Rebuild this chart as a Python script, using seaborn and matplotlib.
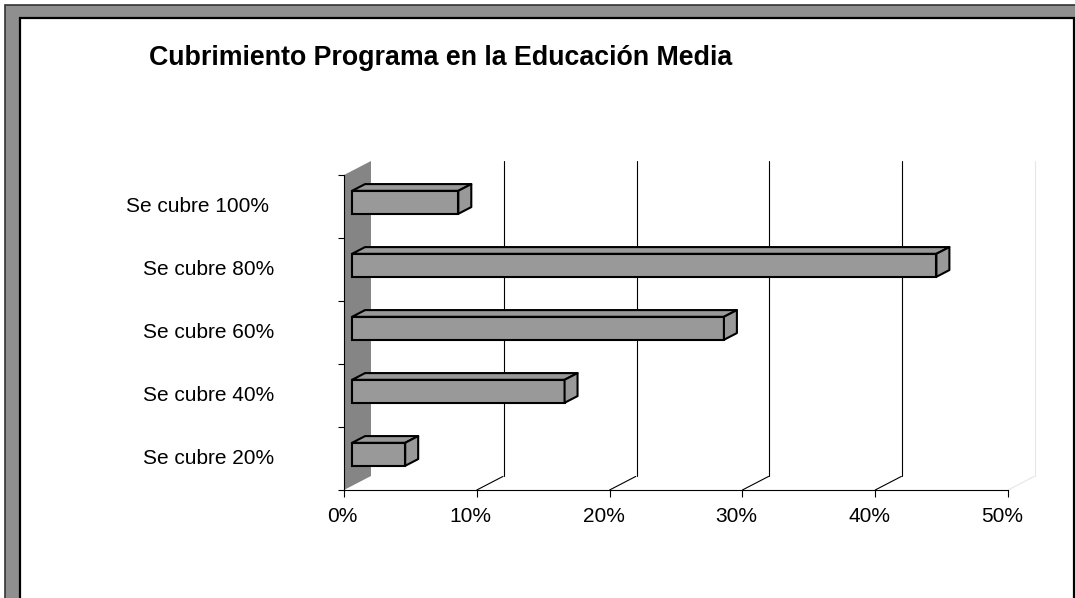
import matplotlib
matplotlib.use("Agg")
import matplotlib.pyplot as plt
import matplotlib.transforms as mtransforms
import seaborn as sns
from matplotlib.patches import Polygon, Rectangle

# ---- data ----
categories = ["Se cubre 100% ", "Se cubre 80%", "Se cubre 60%", "Se cubre 40%", "Se cubre 20%"]
values = [8, 44, 28, 16, 4]
x_ticks = [0, 10, 20, 30, 40, 50]
x_tick_labels = ["0%", "10%", "20%", "30%", "40%", "50%"]
title = "Cubrimiento Programa en la Educación Media"

sns.set_theme(style="white")
plt.rcParams["font.family"] = ["Liberation Sans", "DejaVu Sans"]
plt.rcParams["text.color"] = "black"
plt.rcParams["xtick.color"] = "black"
plt.rcParams["ytick.color"] = "black"
plt.rcParams["xtick.labelcolor"] = "black"
plt.rcParams["ytick.labelcolor"] = "black"

W, H = 1075, 598
fig = plt.figure(figsize=(W / 100, H / 100), dpi=100)
fig.patch.set_facecolor("white")

# outer frame decoration
fig.patches.append(Rectangle((5 / W, -0.1), 1.2, 1 - 5 / H + 0.1, transform=fig.transFigure,
                             facecolor="#8f8f8f", edgecolor="#333333", linewidth=1.2, zorder=-3))
fig.patches.append(Rectangle((20 / W, -0.1), (1074 - 20) / W, 1 - 18 / H + 0.1, transform=fig.transFigure,
                             facecolor="white", edgecolor="black", linewidth=1.6, zorder=-2))

# axes = front plane of the 3D box
ax_left, ax_right, ax_top, ax_bottom = 344, 1008, 175, 490
ax = fig.add_axes([ax_left / W, (H - ax_bottom) / H, (ax_right - ax_left) / W, (ax_bottom - ax_top) / H])
ax.patch.set_alpha(0)
ax.set_zorder(1)

sns.barplot(x=values, y=categories, orient="h", width=0.365, color="#999999", saturation=1,
            edgecolor="black", linewidth=1.5, ax=ax, zorder=4)
bars = list(ax.patches)

ax.set_xlim(0, 50)
ax.set_ylim(len(categories) - 0.5, -0.5)

# depth vector (pixels -> data units)
sx = (ax_right - ax_left) / 50.0
sy = (ax_bottom - ax_top) / len(categories)
dX = 27 / sx
dY = -14 / sy
y_lo, y_hi = len(categories) - 0.5, -0.5

# left wall
ax.add_patch(Polygon([(0, y_hi), (0, y_lo), (dX, y_lo + dY), (dX, y_hi + dY)], closed=True,
                     facecolor="#858585", edgecolor="none", zorder=1, clip_on=False))

# back gridlines and floor diagonals
for t in x_ticks[1:]:
    c = "black" if t < 50 else "#e6e6e6"
    ax.plot([t + dX, t + dX], [y_lo + dY, y_hi + dY], color=c, lw=0.8, zorder=2, clip_on=False)
    ax.plot([t, t + dX * 0.97], [y_lo, y_lo + dY * 0.97], color=c, lw=0.8, zorder=2, clip_on=False)

# 3D bars
f_front, f_depth = 0.30, 0.48
for p in bars:
    p.set_x(p.get_x() + f_front * dX)
    p.set_y(p.get_y() + f_front * dY)
    x0, y0, w, h = p.get_x(), p.get_y(), p.get_width(), p.get_height()
    x1 = x0 + w
    bx, by = f_depth * dX, f_depth * dY
    top = Polygon([(x0, y0), (x1, y0), (x1 + bx, y0 + by), (x0 + bx, y0 + by)], closed=True,
                  facecolor="#999999", edgecolor="black", linewidth=1.5, joinstyle="round",
                  zorder=4, clip_on=False)
    side = Polygon([(x1, y0), (x1, y0 + h), (x1 + bx, y0 + h + by), (x1 + bx, y0 + by)], closed=True,
                   facecolor="#999999", edgecolor="black", linewidth=1.5, joinstyle="round",
                   zorder=4, clip_on=False)
    ax.add_patch(top)
    ax.add_patch(side)
    p.set_clip_on(False)

# axes styling
for s in ["top", "right"]:
    ax.spines[s].set_visible(False)
for s in ["left", "bottom"]:
    ax.spines[s].set_color("black")
    ax.spines[s].set_linewidth(0.8)
    ax.spines[s].set_zorder(3)

ax.set_xticks(x_ticks, labels=x_tick_labels)
ax.set_yticks(range(len(categories)), labels=categories)
ax.set_yticks([i - 0.5 for i in range(len(categories) + 1)], minor=True)
ax.tick_params(axis="x", which="major", length=5, width=0.8, color="black", direction="out",
               pad=7, labelsize=15, bottom=True)
ax.tick_params(axis="y", which="major", length=0, pad=50, labelsize=15)
ax.tick_params(axis="y", which="minor", length=4.3, width=0.8, color="black", direction="out", left=True)
ax.set_xlabel("")
ax.set_ylabel("")
ax.grid(False)

# Excel-like slight left shift of x tick labels
for i, lab in enumerate(ax.get_xticklabels()):
    shift = -2 if i == 0 else -6
    lab.set_transform(lab.get_transform() + mtransforms.ScaledTranslation(shift / 100, 0, fig.dpi_scale_trans))
for lab in ax.get_yticklabels():
    lab.set_transform(lab.get_transform() + mtransforms.ScaledTranslation(0, 2 / 100, fig.dpi_scale_trans))

fig.text(149 / W, 1 - 65 / H, title, fontsize=19.3, fontweight="bold", ha="left", va="baseline",
         color="black")

fig.savefig("out.png", dpi=100)
